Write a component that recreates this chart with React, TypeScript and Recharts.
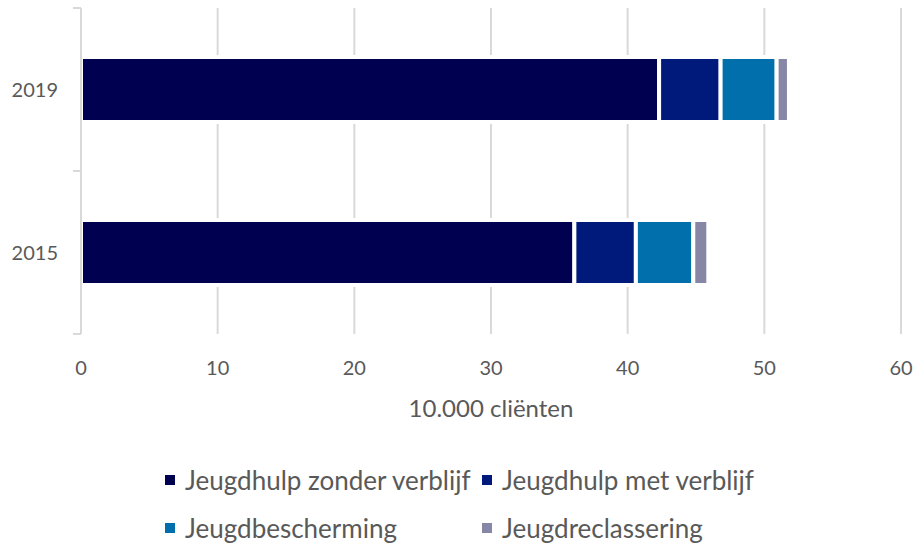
import React from 'react';
import { BarChart, Bar, XAxis, YAxis, CartesianGrid, Legend } from 'recharts';

const years = ['2019', '2015'];
const zonderVerblijf = [42.3, 36.1];
const metVerblijf = [4.5, 4.5];
const jeugdbescherming = [4.1, 4.2];
const jeugdreclassering = [0.9, 1.1];
const xTicks = [0, 10, 20, 30, 40, 50, 60];

const series = [
    { key: 'zonder', name: 'Jeugdhulp zonder verblijf', color: '#000050' },
    { key: 'met', name: 'Jeugdhulp met verblijf', color: '#001a7b' },
    { key: 'bescherming', name: 'Jeugdbescherming', color: '#006fab' },
    { key: 'reclassering', name: 'Jeugdreclassering', color: '#8686a6' },
];

const data = years.map((year, i) => ({
    year,
    zonder: zonderVerblijf[i],
    met: metVerblijf[i],
    bescherming: jeugdbescherming[i],
    reclassering: jeugdreclassering[i],
}));

const FONT = 'Lato, "Noto Sans", sans-serif';
const TEXT = '#595959';
const LINE = '#d9d9d9';

// year label plus Excel-style tick marks at the band edges
const YearTick = (props: any) => {
    const { x, y, payload } = props;
    const half = payload && payload.offset ? payload.offset : 81;
    return (
        <g>
            <text x={x} y={y} dy={7} textAnchor="end" fill={TEXT} fontSize={20} fontFamily={FONT}>
                {payload.value}
            </text>
            <line x1={x + 15} x2={x + 23} y1={y - half} y2={y - half} stroke={LINE} strokeWidth={2} />
            <line x1={x + 15} x2={x + 23} y1={y + half} y2={y + half} stroke={LINE} strokeWidth={2} />
        </g>
    );
};

// legend keeps the series order (recharts would sort it by name)
const LegendGrid = () => (
    <div
        style={{
            display: 'grid',
            gridTemplateColumns: '317px 317px',
            rowGap: 18,
            paddingLeft: 165,
            fontFamily: FONT,
            fontSize: 26,
            color: TEXT,
        }}
    >
        {series.map(s => (
            <div key={s.key} style={{ display: 'flex', alignItems: 'center', height: 30 }}>
                <span style={{ width: 10, height: 10, background: s.color, marginRight: 10, display: 'inline-block' }} />
                <span>{s.name}</span>
            </div>
        ))}
    </div>
);

export default function App() {
    return (
        <div style={{ position: 'fixed', left: 0, top: 0, width: 915, height: 544, background: '#fff' }}>
            <BarChart
                width={915}
                height={544}
                data={data}
                layout="vertical"
                margin={{ top: 8, right: 14, left: 0, bottom: 125 }}
                barSize={65}
            >
                <CartesianGrid horizontal={false} stroke={LINE} strokeWidth={2} />
                <XAxis
                    type="number"
                    domain={[0, 60]}
                    ticks={xTicks}
                    axisLine={false}
                    tickLine={false}
                    tickMargin={21}
                    height={85}
                    tick={{ fontSize: 20, fill: TEXT, fontFamily: FONT }}
                    label={{
                        value: '10.000 cliënten',
                        position: 'insideBottom',
                        offset: 2,
                        fontSize: 24,
                        fill: TEXT,
                        fontFamily: FONT,
                    }}
                />
                <YAxis
                    type="category"
                    dataKey="year"
                    width={81}
                    axisLine={{ stroke: LINE, strokeWidth: 2 }}
                    tickLine={false}
                    tickSize={8}
                    tickMargin={15}
                    tick={<YearTick />}
                />
                <Legend
                    layout="vertical"
                    align="center"
                    verticalAlign="middle"
                    wrapperStyle={{ top: 465, left: 0, width: 915 }}
                    content={<LegendGrid />}
                />
                {series.map(s => (
                    <Bar
                        key={s.key}
                        dataKey={s.key}
                        name={s.name}
                        stackId="a"
                        fill={s.color}
                        stroke="#fff"
                        strokeWidth={4}
                        isAnimationActive={false}
                    />
                ))}
            </BarChart>
        </div>
    );
}
